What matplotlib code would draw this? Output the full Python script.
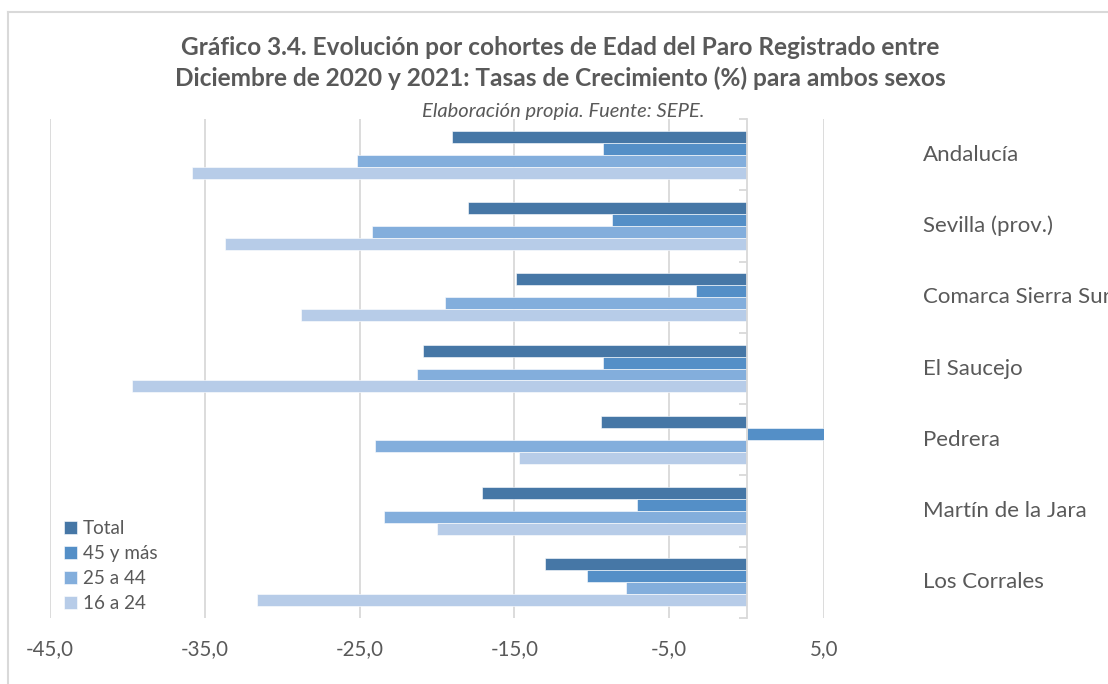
import matplotlib
matplotlib.use("Agg")
import matplotlib.pyplot as plt
import matplotlib.transforms as mtransforms
from matplotlib.lines import Line2D
import numpy as np

categories = ["Andalucía", "Sevilla (prov.)", "Comarca Sierra Sur", "El Saucejo",
              "Pedrera", "Martín de la Jara", "Los Corrales"]
series_names = ["Total", "45 y más", "25 a 44", "16 a 24"]
total = [-19.0, -18.0, -14.9, -20.9, -9.4, -17.1, -13.0]
mayores_45 = [-9.3, -8.7, -3.3, -9.3, 5.1, -7.1, -10.3]
de_25_a_44 = [-25.2, -24.2, -19.5, -21.3, -24.0, -23.4, -7.8]
de_16_a_24 = [-35.8, -33.7, -28.8, -39.7, -14.7, -20.0, -31.6]
x_ticks = [-45, -35, -25, -15, -5, 5]

colors = ["#4677A6", "#548FC7", "#83AEDC", "#B7CCE8"]
grey = "#D9D9D9"
text_color = "#595959"

plt.rcParams['font.family'] = ['Lato', 'DejaVu Sans']

W, H = 1108, 684
fig = plt.figure(figsize=(W / 100, H / 100), dpi=100)
ax = fig.add_axes([50 / W, 1 - 618 / H, 774 / W, 499 / H])

y = np.arange(len(categories))
h = 0.168
values = [total, mayores_45, de_25_a_44, de_16_a_24]
for i, (vals, name, col) in enumerate(zip(values, series_names, colors)):
    ax.barh(y + (i - 1.5) * h, vals, height=h, color=col, label=name,
            edgecolor="white", linewidth=0.4, zorder=3)

ax.set_xlim(-45, 5)
ax.set_ylim(len(categories) - 0.5, -0.5)
ax.set_xticks(x_ticks)
ax.set_xticklabels([f"{v:.1f}".replace(".", ",") for v in x_ticks])
ax.tick_params(axis='x', length=0, pad=15, labelsize=14.8, labelcolor=text_color)
ax.grid(axis='x', color=grey, linewidth=1.3, zorder=0)

ax.set_yticks(np.arange(len(categories) + 1) - 0.5)
ax.set_yticklabels([])
ax.tick_params(axis='y', direction='out', length=6, color=grey, width=1.3)
for s in ["top", "right", "bottom"]:
    ax.spines[s].set_visible(False)
ax.spines['left'].set_position(('data', 0))
ax.spines['left'].set_color(grey)
ax.spines['left'].set_linewidth(1.3)
ax.spines['left'].set_zorder(4)

# category names sit to the right of the plot, like the Excel original
label_tr = mtransforms.blended_transform_factory(fig.transFigure, ax.transData)
for i, cat in enumerate(categories):
    ax.text(923 / W, i, cat, transform=label_tr, ha='left', va='center',
            fontsize=16, color=text_color, clip_on=False)

ax.legend(loc='upper left', bbox_to_anchor=(64 / W, 1 - 520 / H),
          bbox_transform=fig.transFigure, frameon=False, fontsize=13.6,
          labelcolor=text_color, handlelength=0.7, handleheight=0.7,
          handletextpad=0.3, labelspacing=0.42, borderaxespad=0, borderpad=0)

fig.text(560 / W, 1 - 63 / H,
         "Gráfico 3.4. Evolución por cohortes de Edad del Paro Registrado entre\n"
         "Diciembre de 2020 y 2021: Tasas de Crecimiento (%) para ambos sexos",
         ha='center', va='center', fontsize=17.6, fontweight='bold', color=text_color,
         linespacing=1.42)
fig.text(563 / W, 1 - 111 / H, "Elaboración propia. Fuente: SEPE.", ha='center',
         va='center', fontsize=14.5, style='italic', color=text_color)

fig.add_artist(Line2D([8 / W, 8 / W], [0, 1 - 12 / H], color=grey, linewidth=1.5,
                      transform=fig.transFigure))
fig.add_artist(Line2D([8 / W, 1], [1 - 12 / H, 1 - 12 / H], color=grey, linewidth=1.5,
                      transform=fig.transFigure))

fig.savefig("out.png", dpi=100)
